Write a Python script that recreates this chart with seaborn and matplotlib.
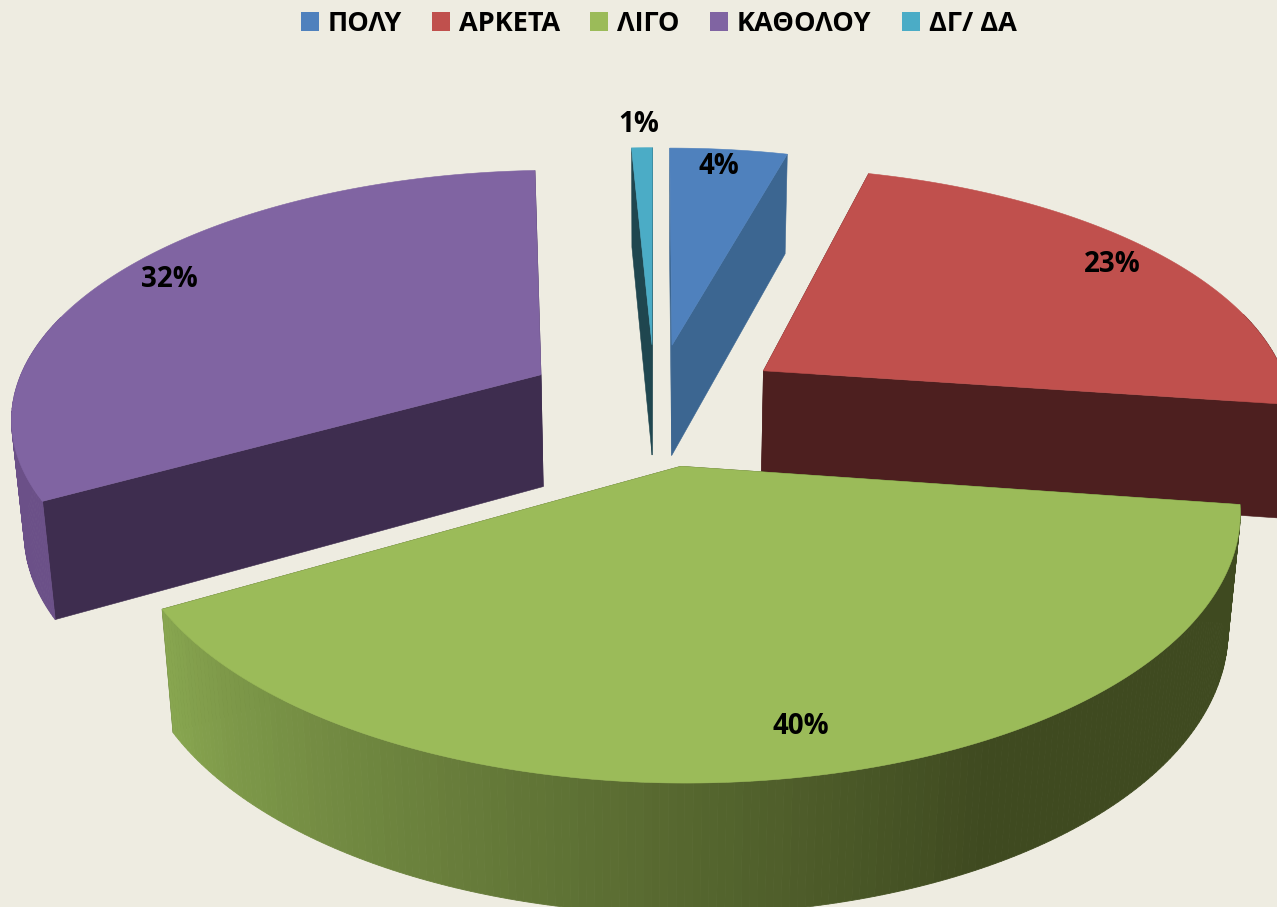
import numpy as np
import matplotlib
matplotlib.use('Agg')
import matplotlib.pyplot as plt
from matplotlib.patches import Patch
import seaborn as sns

# Data
categorias = ['ΠΟΛΥ', 'ΑΡΚΕΤΑ', 'ΛΙΓΟ', 'ΚΑΘΟΛΟΥ', 'ΔΓ/ ΔΑ']
valores = [4.25, 23, 39.5, 32.5, 0.75]
rotulos = ['4%', '23%', '40%', '32%', '1%']

cores = ['#4F81BD', '#C0504D', '#9BBB59', '#8064A2', '#4BACC6']
cores_corte = ['#3C6691', '#4D1F1F', '#3F4A20', '#3E2D4F', '#1F464F']
cores_parede = ['#3C6691', '#4D1F1F', '#3F4A20', '#6B5088', '#1F464F']
raio_rotulo = [0.90, 0.89, 0.86, 0.89, 1.14]
ajuste_rotulo = [-5, -3, 13, 2, -2]  # ajuste fino em x
ordem = [3, 4, 0, 1, 2]  # de tras para frente

fundo = '#EEECE1'
explode = 0.25

sns.set_theme(style='white')
plt.rcParams['font.family'] = ['Open Sans', 'DejaVu Sans']


# perspectiva simples do plano da pizza para pixels
def projeta(x, y, base=False):
    w = 1 + 0.157 * y + (0.02 if base else 0)
    sx = 655 + 530 * x / w
    sy = 403.7 + (-245 * y + (115.6 if base else 0)) / w
    return sx, sy


fig = plt.figure(figsize=(12.77, 9.07), dpi=100, facecolor=fundo)
ax = fig.add_axes([0, 0, 1, 1])
ax.set_xlim(0, 1277)
ax.set_ylim(907, 0)
ax.axis('off')

fim = np.cumsum(valores) / np.sum(valores) * 2 * np.pi
inicio = fim - np.array(valores) / np.sum(valores) * 2 * np.pi
grad_verde = sns.blend_palette(['#88A650', '#3F4A20'], 80)

for i in ordem:
    meio = (inicio[i] + fim[i]) / 2
    ox, oy = explode * np.sin(meio), explode * np.cos(meio)
    n = int(max(4, valores[i] * 5))
    t = np.linspace(inicio[i], fim[i], n)
    arco_x, arco_y = ox + np.sin(t), oy + np.cos(t)
    z = ordem.index(i) * 3

    # faces de corte
    for ang in (inicio[i], fim[i]):
        xs = np.array([ox, ox + np.sin(ang)])
        ys = np.array([oy, oy + np.cos(ang)])
        tx, ty = projeta(xs, ys)
        bx, by = projeta(xs, ys, base=True)
        ax.fill(list(tx) + list(bx[::-1]), list(ty) + list(by[::-1]),
                color=cores_corte[i], lw=0.4, zorder=z)

    # parede externa, so a parte virada para a frente
    for k in range(n - 1):
        if np.cos(t[k]) > 0.25:
            continue
        xs = np.array([arco_x[k], arco_x[k + 1]])
        ys = np.array([arco_y[k], arco_y[k + 1]])
        tx, ty = projeta(xs, ys)
        bx, by = projeta(xs, ys, base=True)
        cor = cores_parede[i]
        if i == 2:
            # o verde escurece da esquerda para a direita
            f = (fim[i] - t[k]) / np.radians(88)
            cor = grad_verde[min(int(f * 79), 79)]
        ax.fill(list(tx) + list(bx[::-1]), list(ty) + list(by[::-1]),
                color=cor, lw=0.6, zorder=z + 1)

    # topo
    sx, sy = projeta(np.r_[ox, arco_x], np.r_[oy, arco_y])
    ax.fill(sx, sy, color=cores[i], lw=0.4, zorder=z + 2)

# rotulos de dados
for i in range(len(valores)):
    meio = (inicio[i] + fim[i]) / 2
    r = explode + raio_rotulo[i]
    lx, ly = projeta(r * np.sin(meio), r * np.cos(meio))
    ax.text(lx + ajuste_rotulo[i], ly, rotulos[i], ha='center', va='center', fontsize=20,
            fontweight='bold', color='black', zorder=30)

# legenda
alcas = [Patch(facecolor=c, edgecolor='none') for c in cores]
ax.legend(alcas, categorias, loc='upper center', bbox_to_anchor=(0.5157, 1.015), ncol=5,
          frameon=False, handlelength=0.67, handleheight=0.7, handletextpad=0.33,
          columnspacing=1.11, prop={'size': 19.5, 'weight': 'bold'},
          labelcolor='black')

fig.savefig('out.png', dpi=100, facecolor=fundo)
